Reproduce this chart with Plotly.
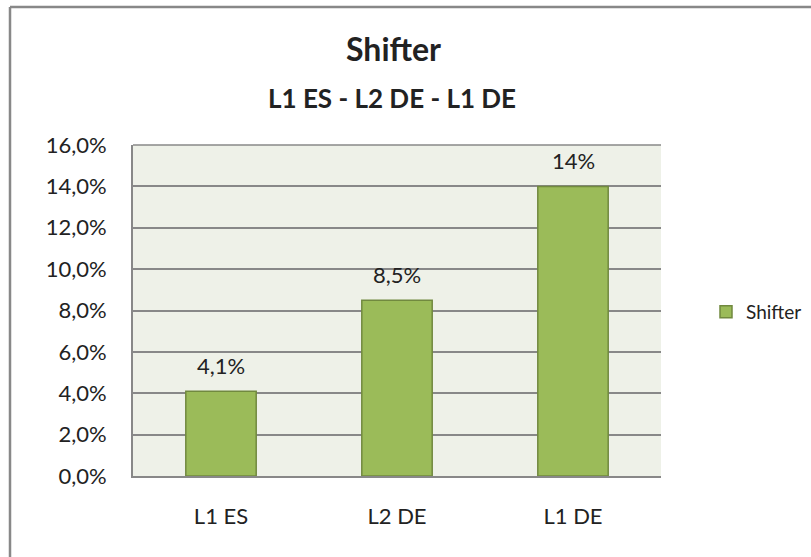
import plotly.graph_objects as go

categories = ["L1 ES", "L2 DE", "L1 DE"]
values = [0.041, 0.085, 0.14]
value_labels = ["4,1%", "8,5%", "14%"]
tick_vals = [0, 0.02, 0.04, 0.06, 0.08, 0.10, 0.12, 0.14, 0.16]
tick_text = ["0,0%", "2,0%", "4,0%", "6,0%", "8,0%", "10,0%", "12,0%", "14,0%", "16,0%"]
series_name = "Shifter"
title = "Shifter"
subtitle = "L1 ES - L2 DE - L1 DE"

W, H = 811, 557
L, R, T, B = 133, 150, 145, 81
pw, ph = W - L - R, H - T - B

def px_x(x):
    return (x - L) / pw

def px_y(y):
    return (H - B - y) / ph

FONT = "Lato, Calibri, Carlito, sans-serif"
TXT = "#222222"

fig = go.Figure()
fig.add_trace(go.Bar(
    x=categories, y=values, name=series_name,
    marker=dict(color="#9BBB59", line=dict(color="#71893F", width=1.5)),
    width=0.40,
    showlegend=True,
))

# data labels above bars, positioned via data coordinates
for cat, val, lab in zip(categories, values, value_labels):
    fig.add_annotation(x=cat, y=val, text=lab, showarrow=False,
                       yshift=26, xanchor="center", yanchor="middle",
                       font=dict(size=22, family=FONT, color=TXT))

fig.update_layout(
    width=W, height=H,
    margin=dict(l=L, r=R, t=T, b=B, autoexpand=False),
    paper_bgcolor="white",
    plot_bgcolor="#EEF1E8",
    font=dict(family=FONT, size=22, color=TXT),
    showlegend=True,
    legend=dict(x=px_x(706), xanchor="left", y=px_y(312), yanchor="middle",
                font=dict(size=19, family=FONT, color=TXT),
                itemwidth=30, bgcolor="rgba(0,0,0,0)"),
    xaxis=dict(showgrid=False, showline=True, linecolor="#888888", linewidth=2,
               mirror=False, ticks="", tickfont=dict(size=22), ticklabelstandoff=20),
    yaxis=dict(range=[0, 0.16], tickvals=tick_vals, ticktext=tick_text,
               showgrid=True, gridcolor="#888888", gridwidth=1.5,
               showline=True, linecolor="#888888", linewidth=2,
               zeroline=False, ticks="", tickfont=dict(size=22), ticklabelstandoff=20),
    bargap=0.6,
)

# top grid line (plot top)
fig.add_shape(type="line", xref="paper", yref="paper", x0=0, x1=1, y0=1, y1=1,
              line=dict(color="#888888", width=1.5))

# outer chart border (left + top visible)
fig.add_shape(type="line", xref="paper", yref="paper",
              x0=px_x(10), x1=px_x(10), y0=px_y(H + 5), y1=px_y(7),
              line=dict(color="#888888", width=2.5))
fig.add_shape(type="line", xref="paper", yref="paper",
              x0=px_x(10), x1=px_x(W + 5), y0=px_y(7), y1=px_y(7),
              line=dict(color="#888888", width=2.5))

fig.add_annotation(text="<b>" + title + "</b>", xref="paper", yref="paper",
                   x=px_x(393), y=px_y(48), showarrow=False,
                   font=dict(size=32, family=FONT, color=TXT),
                   xanchor="center", yanchor="middle")
fig.add_annotation(text="<b>" + subtitle + "</b>", xref="paper", yref="paper",
                   x=px_x(392), y=px_y(98), showarrow=False,
                   font=dict(size=26, family=FONT, color=TXT),
                   xanchor="center", yanchor="middle")

fig.write_html("out.html", config={"displayModeBar": False},
               post_script="document.body.style.margin='0';document.body.style.overflow='hidden';")
